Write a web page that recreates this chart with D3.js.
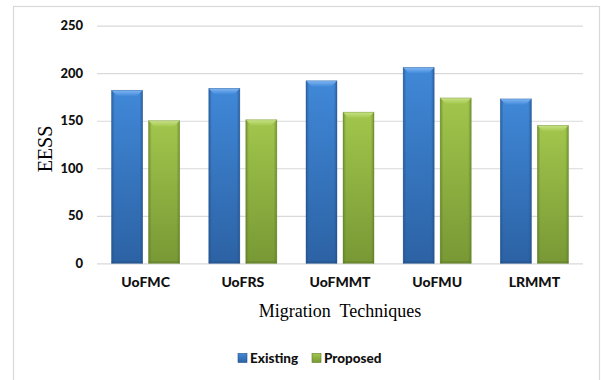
<!DOCTYPE html>
<html>
<head>
<meta charset="utf-8">
<script src="https://cdn.jsdelivr.net/npm/d3@7"></script>
<style>
  html, body { margin: 0; padding: 0; background: #fff; }
  svg { display: block; }
</style>
</head>
<body>
<svg id="chart" width="601" height="380"></svg>
<script>
// Chart data
const categories = ["UoFMC", "UoFRS", "UoFMMT", "UoFMU", "LRMMT"];
const seriesNames = ["Existing", "Proposed"];
const existingValues = [182, 184, 192, 206, 173];
const proposedValues = [150, 151, 159, 174, 145];
const yTicks = [0, 50, 100, 150, 200, 250];

const seriesValues = [existingValues, proposedValues];
const palette = {
  Existing: { top: "#80b6f4", light: "#4088d8", dark: "#2c62a4", edge: "#23508a" },
  Proposed: { top: "#c8e286", light: "#a2c64c", dark: "#789835", edge: "#5f7c27" }
};

const svg = d3.select("#chart");
const plot = { left: 97, right: 583, top: 25.7, bottom: 263.3 };

// Outer chart frame
svg.append("rect")
  .attr("x", 13.5).attr("y", 6.5)
  .attr("width", 586).attr("height", 400)
  .attr("fill", "#fff")
  .attr("stroke", "#d9d9d9").attr("stroke-width", 1.2);

const x0 = d3.scaleBand().domain(categories).range([plot.left, plot.right]).padding(0);
const x1 = d3.scaleBand().domain(seriesNames).range([0, x0.bandwidth()])
  .paddingInner(0.162).paddingOuter(0.394);
const y = d3.scaleLinear().domain([0, 250]).range([plot.bottom, plot.top]);

// Gradients for the bevelled bars
const defs = svg.append("defs");
seriesNames.forEach(name => {
  const c = palette[name];
  const g = defs.append("linearGradient").attr("id", "grad-" + name)
    .attr("x1", 0).attr("y1", 0).attr("x2", 0).attr("y2", 1);
  g.append("stop").attr("offset", "0%").attr("stop-color", c.light);
  g.append("stop").attr("offset", "100%").attr("stop-color", c.dark);
  const h = defs.append("linearGradient").attr("id", "side-" + name)
    .attr("x1", 0).attr("y1", 0).attr("x2", 1).attr("y2", 0);
  h.append("stop").attr("offset", "0%").attr("stop-color", c.edge).attr("stop-opacity", 0.7);
  h.append("stop").attr("offset", "10%").attr("stop-color", c.edge).attr("stop-opacity", 0);
  h.append("stop").attr("offset", "90%").attr("stop-color", c.edge).attr("stop-opacity", 0);
  h.append("stop").attr("offset", "100%").attr("stop-color", c.edge).attr("stop-opacity", 0.7);
  const t = defs.append("linearGradient").attr("id", "top-" + name)
    .attr("x1", 0).attr("y1", 0).attr("x2", 0).attr("y2", 1);
  t.append("stop").attr("offset", "0%").attr("stop-color", c.top);
  t.append("stop").attr("offset", "100%").attr("stop-color", c.light);
});

// Gridlines and value ticks
const yAxis = d3.axisLeft(y).tickValues(yTicks).tickSize(-(plot.right - plot.left)).tickPadding(14);
const yg = svg.append("g").attr("transform", `translate(${plot.left},0)`).call(yAxis);
yg.select(".domain").remove();
yg.selectAll(".tick line").attr("stroke", "#d9d9d9").attr("stroke-width", 1.2);
yg.selectAll(".tick text")
  .attr("font-family", "Lato, 'Liberation Sans', sans-serif")
  .attr("font-weight", 900).attr("font-size", 13).attr("fill", "#111");

// Bars
const bw = x1.bandwidth();
const bev = 6;
categories.forEach((cat, i) => {
  seriesNames.forEach((name, s) => {
    const v = seriesValues[s][i];
    const bx = x0(cat) + x1(name);
    const by = y(v);
    const bh = y(0) - y(v);
    const c = palette[name];
    const g = svg.append("g").attr("class", "bar");
    g.append("rect").attr("x", bx).attr("y", by).attr("width", bw).attr("height", bh)
      .attr("fill", `url(#grad-${name})`);
    g.append("rect").attr("x", bx).attr("y", by).attr("width", bw).attr("height", bh)
      .attr("fill", `url(#side-${name})`);
    // top bevel
    g.append("path")
      .attr("d", `M${bx},${by}L${bx + bw},${by}L${bx + bw - bev},${by + bev}L${bx + bev},${by + bev}Z`)
      .attr("fill", `url(#top-${name})`);
    // bottom edge
    g.append("rect").attr("x", bx).attr("y", y(0) - 2).attr("width", bw).attr("height", 2)
      .attr("fill", c.edge).attr("opacity", 0.5);
    g.append("rect").attr("x", bx).attr("y", by).attr("width", bw).attr("height", bh)
      .attr("fill", "none").attr("stroke", c.edge).attr("stroke-opacity", 0.4).attr("stroke-width", 0.8);
  });
});

// Category labels
const xAxis = d3.axisBottom(x0).tickSize(0).tickPadding(14);
const xg = svg.append("g").attr("transform", `translate(0,${plot.bottom})`).call(xAxis);
xg.select(".domain").remove();
xg.selectAll(".tick text")
  .attr("font-family", "Lato, 'Liberation Sans', sans-serif")
  .attr("font-weight", 900).attr("font-size", 14).attr("fill", "#111");

// Axis titles
svg.append("text")
  .attr("x", (plot.left + plot.right) / 2).attr("y", 317)
  .attr("text-anchor", "middle")
  .attr("font-family", "'Liberation Serif', 'Times New Roman', serif")
  .attr("font-size", 18).attr("fill", "#000")
  .attr("xml:space", "preserve")
  .text("Migration  Techniques");

svg.append("text")
  .attr("transform", "translate(52,149) rotate(-90)")
  .attr("text-anchor", "middle")
  .attr("font-family", "'Liberation Serif', 'Times New Roman', serif")
  .attr("font-size", 20).attr("fill", "#000")
  .text("EESS");

// Legend
const legendItems = [
  { name: "Existing", x: 238 },
  { name: "Proposed", x: 312 }
];
legendItems.forEach(item => {
  const c = palette[item.name];
  svg.append("rect").attr("x", item.x).attr("y", 353.5).attr("width", 9).attr("height", 9)
    .attr("fill", `url(#grad-${item.name})`).attr("stroke", c.edge).attr("stroke-width", 0.6);
  svg.append("text").attr("x", item.x + 12).attr("y", 362.5)
    .attr("font-family", "Lato, 'Liberation Sans', sans-serif")
    .attr("font-weight", 900).attr("font-size", 13.5).attr("fill", "#111")
    .text(item.name);
});
</script>
</body>
</html>
